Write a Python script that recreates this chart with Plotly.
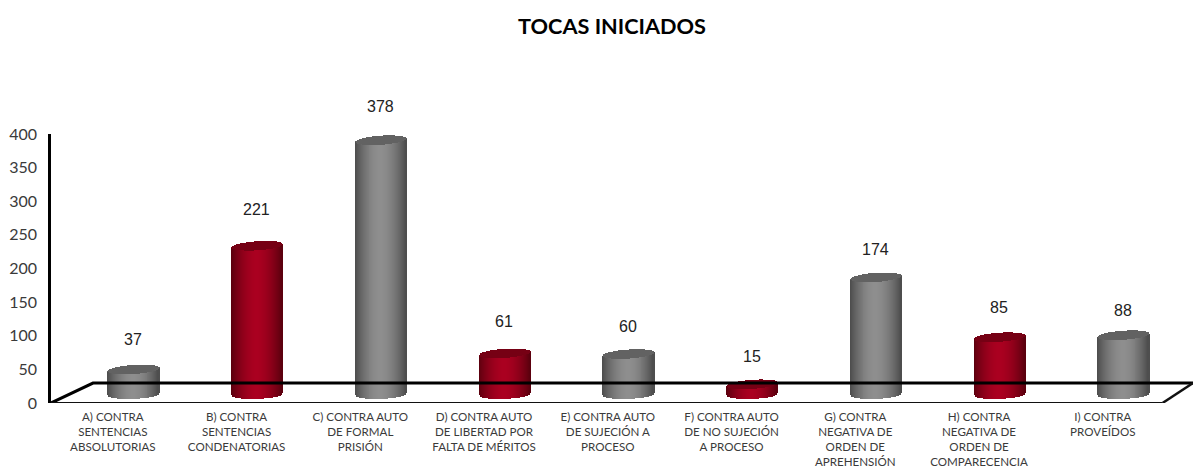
import numpy as np
import plotly.graph_objects as go

title = "TOCAS INICIADOS"
categories = [
    "A) CONTRA<br>SENTENCIAS<br>ABSOLUTORIAS",
    "B) CONTRA<br>SENTENCIAS<br>CONDENATORIAS",
    "C) CONTRA AUTO<br>DE FORMAL<br>PRISIÓN",
    "D) CONTRA AUTO<br>DE LIBERTAD POR<br>FALTA DE MÉRITOS",
    "E) CONTRA AUTO<br>DE SUJECIÓN A<br>PROCESO",
    "F) CONTRA AUTO<br>DE NO SUJECIÓN<br>A PROCESO",
    "G) CONTRA<br>NEGATIVA DE<br>ORDEN DE<br>APREHENSIÓN",
    "H) CONTRA<br>NEGATIVA DE<br>ORDEN DE<br>COMPARECENCIA",
    "I) CONTRA<br>PROVEÍDOS",
]
values = [37, 221, 378, 61, 60, 15, 174, 85, 88]
is_red = [False, True, False, True, False, True, False, True, False]
label_gaps = [30, 36, 34, 32, 28, 28, 28, 30, 25]

# style helpers
PX_X = 1 / 123.75          # one pixel in x units
PX_Y = 400 / 269           # one pixel in y units
FLOOR = 12.8               # cylinders stand on the raised floor
HALF_W = 25 * PX_X
RY = 4.5 * PX_Y
TILT = 1.7 * PX_Y
STRIPS = 52
X0, X1 = -0.6626, 8.566
BACK = 29.7
FRONT_END = 8.32


def shade(t, red):
    k = 1 - abs(t) ** 1.8
    if red:
        a, b = (92, 0, 14), (170, 0, 32)
    else:
        a, b = (78, 78, 78), (142, 142, 142)
    return "rgb(%d,%d,%d)" % tuple(round(a[i] + (b[i] - a[i]) * k) for i in range(3))


bx, by, bb, bc = [], [], [], []
cx, cy, cb, cc = [], [], [], []
for i, (v, r) in enumerate(zip(values, is_red)):
    for t in np.linspace(-1, 1, STRIPS):
        e = RY * np.sqrt(max(0, 1 - t * t))
        tilt = TILT * t
        x = i + t * HALF_W + 0.5 * PX_X
        low = FLOOR - e + tilt * 0.6
        top = FLOOR + v + tilt
        bx.append(x); bb.append(low); by.append(top - low + e * 0.2); bc.append(shade(t, r))
        cx.append(x); cb.append(top - e); cy.append(2 * e + 0.01)
        cc.append("rgb(118,0,20)" if r else "rgb(98,98,98)")

fig = go.Figure()
# floor (behind the cylinders)
fig.add_trace(go.Scatter(
    x=[X0, -0.3232, X1], y=[0, BACK, BACK], mode="lines",
    line=dict(color="black", width=3), hoverinfo="skip", cliponaxis=False))
fig.add_trace(go.Scatter(
    x=[FRONT_END, X1], y=[0, BACK], mode="lines",
    line=dict(color="#111111", width=2.5), hoverinfo="skip", cliponaxis=False))
fig.add_trace(go.Bar(x=bx, y=by, base=bb, width=2.4 * PX_X,
                     marker=dict(color=bc, line=dict(width=0)), hoverinfo="skip"))
fig.add_trace(go.Bar(x=cx, y=cy, base=cb, width=2.4 * PX_X,
                     marker=dict(color=cc, line=dict(width=0)), hoverinfo="skip"))

fig.add_shape(type="line", xref="x", yref="y", x0=X0, x1=FRONT_END, y0=-1.2 * PX_Y, y1=-1.2 * PX_Y,
              line=dict(color="#8c8c8c", width=2.5))
fig.add_shape(type="line", xref="x", yref="y", x0=X0, x1=FRONT_END, y0=0, y1=0,
              line=dict(color="#111111", width=2))

for i, (v, gap) in enumerate(zip(values, label_gaps)):
    fig.add_annotation(x=i, y=v + FLOOR, yshift=gap, text=str(v), showarrow=False,
                       xanchor="center", yanchor="middle",
                       font=dict(family="Liberation Sans", size=16, color="#222222"))

fig.update_layout(
    width=1193, height=468, autosize=False, showlegend=False,
    barmode="overlay", bargap=0, plot_bgcolor="white", paper_bgcolor="white",
    margin=dict(l=51, r=0, t=134, b=65, autoexpand=False),
    title=dict(text="<b>%s</b>" % title, x=0.513, xanchor="center", y=0.944, yanchor="middle",
               font=dict(family="Lato", size=21.7, color="black")),
    xaxis=dict(range=[X0, X1], tickmode="array", automargin=False,
               tickvals=[i - 0.163 for i in range(len(categories))], ticktext=categories,
               tickangle=0, showgrid=False, zeroline=False, showline=False, ticks="",
               ticklabelstandoff=5,
               tickfont=dict(family="Lato", size=11.6, color="#3a3a3a")),
    yaxis=dict(range=[0, 400], tickmode="array", tickvals=list(range(0, 401, 50)), automargin=False,
               showgrid=False, zeroline=False, showline=True, linecolor="black", linewidth=2.5,
               ticks="", ticklabelstandoff=8, tickfont=dict(family="Lato", size=16, color="#3a3a3a")),
)
fig.write_html("out.html", post_script="document.body.style.margin='0';",
               config={"displayModeBar": False})
